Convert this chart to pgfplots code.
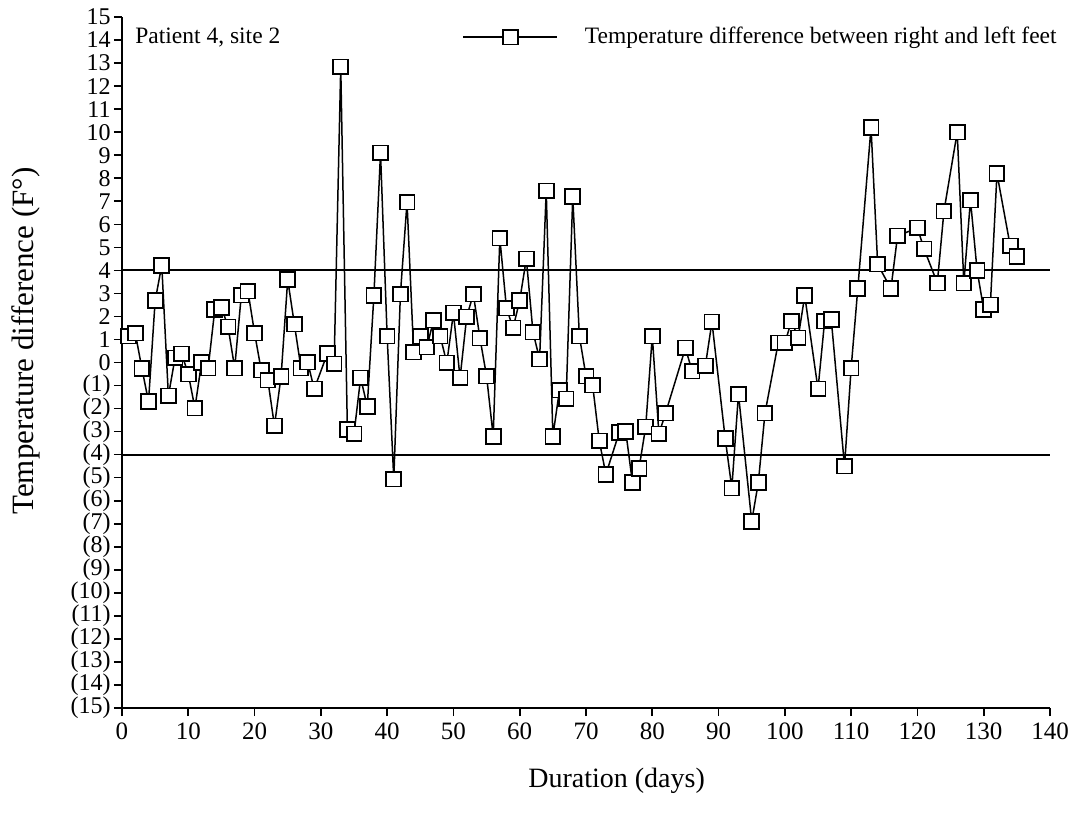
\documentclass[border=0pt]{standalone}
\usepackage{fontspec}
\setmainfont{Liberation Serif}
\usepackage{pgfplots}
\pgfplotsset{compat=1.18}
\begin{document}
\begin{tikzpicture}
\useasboundingbox (-61pt,-61.5pt) rectangle (474pt,354pt);
\begin{axis}[
  at={(0,0)}, anchor=south west,
  scale only axis, width=464pt, height=345.5pt,
  xmin=0, xmax=140, ymin=-15, ymax=15,
  axis lines*=left,
  axis line style={line width=1pt},
  tick align=outside, major tick length=4pt,
  every tick/.style={black, line width=0.8pt},
  xtick={0,10,...,140},
  ytick={-15,-14,...,15},
  yticklabels={(15),(14),(13),(12),(11),(10),(9),(8),(7),(6),(5),(4),(3),(2),(1),0,1,2,3,4,5,6,7,8,9,10,11,12,13,14,15},
  /pgf/number format/assume math mode=true,
  xticklabel style={font=\fontsize{12.5}{13}\selectfont},
  yticklabel style={font=\fontsize{12}{12}\selectfont, inner xsep=1.5pt, inner ysep=0pt},
  xlabel={Duration (days)},
  ylabel={Temperature difference (F°)},
  every axis x label/.style={at={(rel axis cs:0.533,0)}, yshift=-36.5pt, anchor=center, font=\fontsize{14}{16}\selectfont},
  every axis y label/.style={at={(rel axis cs:0,0.531)}, xshift=-48pt, rotate=90, anchor=center, font=\fontsize{15.5}{17}\selectfont},
  legend style={draw=none, fill=none, at={(rel axis cs:1.0226,0.971)}, anchor=east, font=\fontsize{11.75}{13}\selectfont, inner sep=0pt, nodes={inner xsep=7pt}, /tikz/every odd column/.append style={column sep=6.5pt}},
  legend image code/.code={\draw[mark repeat=2, mark phase=2] plot coordinates {(0pt,0pt) (23.5pt,0pt) (47pt,0pt)};},
  clip=false,
]
\addplot[black, line width=0.9pt, forget plot] coordinates {(0,4) (140,4)};
\addplot[black, line width=0.9pt, forget plot] coordinates {(0,-4) (140,-4)};
\addplot[black, line width=0.75pt, mark=square*, mark size=3.7pt, mark options={fill=white, draw=black, line width=0.9pt}] coordinates {
(1,1.15) (2,1.28) (3,-0.25) (4,-1.7) (5,2.68) (6,4.22) (7,-1.45) (8,0.2) (9,0.37) (10,-0.5)
(11,-1.98) (12,0.0) (13,-0.24) (14,2.3) (15,2.4) (16,1.55) (17,-0.24) (18,2.93) (19,3.1) (20,1.28)
(21,-0.33) (22,-0.76) (23,-2.75) (24,-0.6) (25,3.6) (26,1.67) (27,-0.24) (28,0.02) (29,-1.15)
(31,0.4) (32,-0.06) (33,12.83) (34,-2.9) (35,-3.1) (36,-0.67) (37,-1.9) (38,2.9) (39,9.1) (40,1.15)
(41,-5.06) (42,2.97) (43,6.96) (44,0.45) (45,1.15) (46,0.67) (47,1.84) (48,1.15) (49,-0.02) (50,2.15)
(51,-0.67) (52,1.98) (53,2.97) (54,1.06) (55,-0.59) (56,-3.2) (57,5.4) (58,2.36) (59,1.5) (60,2.7)
(61,4.5) (62,1.32) (63,0.15) (64,7.45) (65,-3.2) (66,-1.2) (67,-1.58) (68,7.2) (69,1.15) (70,-0.59)
(71,-0.98) (72,-3.4) (73,-4.85) (75,-3.05) (76,-3.0) (77,-5.2) (78,-4.6) (79,-2.8) (80,1.15)
(81,-3.1) (82,-2.2) (85,0.63) (86,-0.37) (88,-0.15) (89,1.76) (91,-3.3) (92,-5.45) (93,-1.37)
(95,-6.9) (96,-5.2) (97,-2.2) (99,0.85) (100,0.85) (101,1.8) (102,1.07) (103,2.9) (105,-1.15)
(106,1.8) (107,1.87) (109,-4.5) (110,-0.24) (111,3.2) (113,10.2) (114,4.27) (116,3.2) (117,5.5)
(120,5.84) (121,4.93) (123,3.45) (124,6.57) (126,10.0) (127,3.45) (128,7.05) (129,4.0) (130,2.3)
(131,2.5) (132,8.2) (134,5.06) (135,4.6)
};
\addlegendentry{Temperature difference between right and left feet}
\node[anchor=west, font=\fontsize{11.75}{13}\selectfont, inner sep=0pt] at (rel axis cs:0.014,0.971) {Patient 4, site 2};
\end{axis}
\end{tikzpicture}
\end{document}
